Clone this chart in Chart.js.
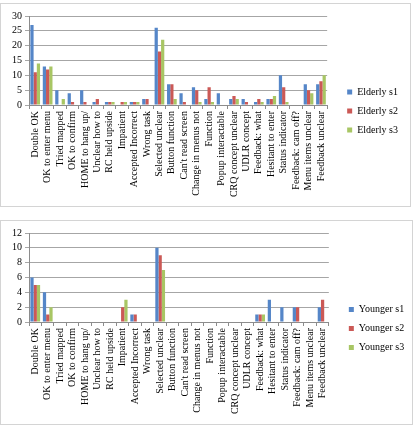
<!DOCTYPE html>
<html>
<head>
<meta charset="utf-8">
<script src="https://cdn.jsdelivr.net/npm/chart.js@4"></script>
<style>
body { margin: 0; background: #fff; }
.box { position: absolute; left: 0; box-sizing: border-box; border: 1px solid #d4d4d4; overflow: hidden; background: #fff; }
#box1 { top: 3px; width: 411px; height: 204px; }
#box2 { top: 220px; width: 413px; height: 205px; }
canvas { position: absolute; left: 0; top: 0; }
</style>
</head>
<body>
<div class="box" id="box1"><canvas id="elderly" width="409" height="202"></canvas></div>
<div class="box" id="box2"><canvas id="younger" width="411" height="203"></canvas></div>
<script>
// categories shared by both charts
const categories = [
    "Double OK", "OK to enter menu", "Tried mapped", "OK to confirm",
    "HOME to hang up/", "Unclear how to", "RC held upside", "Impatient",
    "Accepted Incorrect", "Wrong task", "Selected unclear", "Button function",
    "Can't read screen", "Change in menus not", "Function", "Popup interactable",
    "CRQ concept unclear", "UDLR concept", "Feedback: what", "Hesitant to enter",
    "Status indicator", "Feedback: cam off?", "Menu items unclear", "Feedback unclear"
];

const elderlyNames = ["Elderly s1", "Elderly s2", "Elderly s3"];
const elderlyS1 = [27, 13, 5, 4, 5, 1, 1, 0, 1, 2, 26, 7, 4, 6, 2, 4, 2, 2, 1, 2, 10, 0, 7, 7];
const elderlyS2 = [11, 12, 0, 1, 1, 2, 1, 1, 1, 2, 18, 7, 1, 5, 6, 0, 3, 1, 2, 2, 6, 0, 5, 8];
const elderlyS3 = [14, 13, 2, 0, 0, 0, 1, 1, 1, 0, 22, 2, 0, 1, 1, 0, 2, 0, 1, 3, 1, 0, 4, 10];

const youngerNames = ["Younger s1", "Younger s2", "Younger s3"];
const youngerS1 = [6, 4, 0, 0, 0, 0, 0, 0, 1, 0, 10, 0, 0, 0, 0, 0, 0, 0, 1, 3, 2, 2, 0, 2];
const youngerS2 = [5, 1, 0, 0, 0, 0, 0, 2, 1, 0, 9, 0, 0, 0, 0, 0, 0, 0, 1, 0, 0, 2, 0, 3];
const youngerS3 = [5, 2, 0, 0, 0, 0, 0, 3, 0, 0, 7, 0, 0, 0, 0, 0, 0, 0, 1, 0, 0, 0, 0, 0];

const elderlyTicks = { max: 30, step: 5 };
const youngerTicks = { max: 12, step: 2 };

const colors = ["#5586C8", "#CB5956", "#A8C664"];
const serif = "'Liberation Serif', 'DejaVu Serif', serif";

function makeChart(id, names, series, yTicks, labelBand) {
    const ctx = document.getElementById(id).getContext("2d");
    return new Chart(ctx, {
        type: 'bar',
        data: {
            labels: categories,
            datasets: series.map((vals, i) => ({
                label: names[i],
                data: vals,
                backgroundColor: colors[i],
                borderWidth: 0,
                categoryPercentage: 0.78,
                barPercentage: 1.0
            }))
        },
        options: {
            responsive: false,
            animation: false,
            layout: { padding: { top: 12, left: 8, right: 6, bottom: 0 } },
            plugins: {
                tooltip: { enabled: false },
                legend: {
                    position: 'right',
                    labels: {
                        boxWidth: 5,
                        boxHeight: 5,
                        padding: 9,
                        color: '#000',
                        font: { family: serif, size: 10 }
                    }
                }
            },
            scales: {
                x: {
                    grid: { drawOnChartArea: false, offset: true, tickLength: 4, color: '#8c8c8c' },
                    border: { color: '#8c8c8c' },
                    ticks: {
                        autoSkip: false, minRotation: 90, maxRotation: 90, padding: 2,
                        color: '#000', font: { family: serif, size: 10 }
                    },
                    // room for the long upright category names
                    afterFit: function(scale) { scale.height = labelBand; }
                },
                y: {
                    min: 0,
                    max: yTicks.max,
                    grid: { color: '#a6a6a6', tickLength: 4 },
                    border: { color: '#8c8c8c' },
                    ticks: {
                        stepSize: yTicks.step, autoSkip: false, padding: 3,
                        color: '#000', font: { family: serif, size: 10 }
                    }
                },
                // empty strip between plot and legend
                gap: {
                    position: 'right',
                    grid: { display: false },
                    border: { display: false },
                    ticks: { display: false },
                    afterFit: function(scale) { scale.width = 11; }
                }
            }
        }
    });
}

makeChart("elderly", elderlyNames, [elderlyS1, elderlyS2, elderlyS3], elderlyTicks, 101);
makeChart("younger", youngerNames, [youngerS1, youngerS2, youngerS3], youngerTicks, 102);
</script>
</body>
</html>
